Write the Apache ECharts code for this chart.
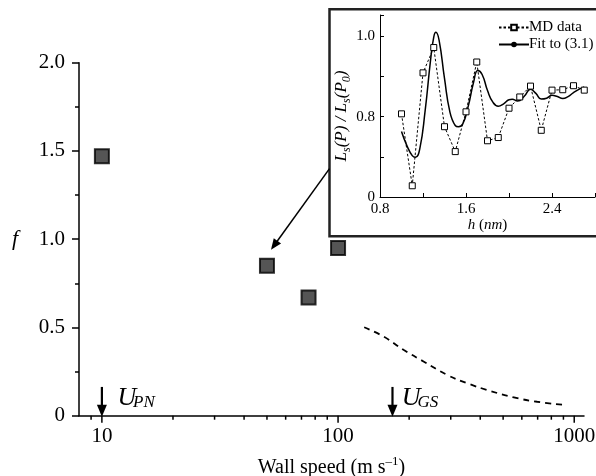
<!DOCTYPE html>
<html><head><meta charset="utf-8">
<script src="https://cdn.jsdelivr.net/npm/echarts@6/dist/echarts.min.js"></script>
<style>html,body{margin:0;padding:0;background:#fff}#c{width:596px;height:476px}</style>
</head><body><div id="c"></div>
<script>
// ---- Main chart data ----
const wallSpeed = [10, 50, 75, 100];
const fValues = [1.47, 0.85, 0.67, 0.95];
const curveSpeed = [129, 156, 190, 231, 290, 352, 442, 555, 697, 903];
const curveF = [0.501, 0.448, 0.372, 0.306, 0.231, 0.184, 0.140, 0.104, 0.079, 0.062];
const markerSpeed = [10, 170];
const markerTop = [0.163, 0.163];
const markerMain = ['U', 'U'];
const markerSub = ['PN', 'GS'];
const pointerFrom = [92, 1.40];
const pointerTo = [52, 0.94];
const xMajorTicks = [10, 100, 1000];
const xMinorTicks = [9, 20, 30, 40, 50, 60, 70, 80, 90, 200, 300, 400, 500, 600, 700, 800, 900];
const yTickLabels = { '0': '0', '0.5': '0.5', '1': '1.0', '1.5': '1.5', '2': '2.0' };
// ---- Inset data ----
const hMD = [1.0, 1.1, 1.2, 1.3, 1.4, 1.5, 1.6, 1.7, 1.8, 1.9, 2.0, 2.1, 2.2, 2.3, 2.4, 2.5, 2.6, 2.7];
const lsMD = [0.807, 0.628, 0.909, 0.972, 0.775, 0.713, 0.812, 0.936, 0.740, 0.748, 0.821, 0.849, 0.876, 0.766, 0.866, 0.867, 0.877, 0.866];
const hFit = [1.00, 1.05, 1.10, 1.13, 1.17, 1.22, 1.27, 1.30, 1.32, 1.35, 1.40, 1.45, 1.50, 1.53, 1.57, 1.62, 1.67, 1.71, 1.75, 1.80, 1.85, 1.90, 1.95, 2.00, 2.03, 2.08, 2.14, 2.20, 2.25, 2.30, 2.35, 2.40, 2.45, 2.50, 2.55, 2.60, 2.65, 2.70];
const lsFit = [0.763, 0.728, 0.703, 0.699, 0.720, 0.815, 0.940, 0.998, 1.010, 0.990, 0.895, 0.812, 0.778, 0.775, 0.782, 0.825, 0.885, 0.915, 0.905, 0.865, 0.836, 0.826, 0.832, 0.842, 0.843, 0.839, 0.850, 0.868, 0.858, 0.844, 0.846, 0.853, 0.850, 0.845, 0.850, 0.860, 0.868, 0.874];
const insetXLabels = ['0.8', '1.6', '2.4'];
const insetYLabels = { '0.6': '0', '0.8': '0.8', '1': '1.0' };

const FONT = '"Liberation Serif", "Times New Roman", serif';
const chart = echarts.init(document.getElementById('c'), null, { renderer: 'canvas' });

const option = {
  animation: false,
  backgroundColor: '#fff',
  grid: [
    { left: 79, right: 12, top: 62.7, bottom: 60.3, containLabel: false, outerBoundsMode: 'none' },
    { left: 380, right: 1, top: 15, bottom: 279, containLabel: false, outerBoundsMode: 'none' }
  ],
  xAxis: [
    {
      gridIndex: 0, type: 'log', logBase: 10, min: 8, max: 1100,
      axisLine: { lineStyle: { color: '#000', width: 1.5 } },
      axisTick: { show: false },
      minorTick: { show: false },
      splitLine: { show: false },
      axisLabel: {
        color: '#000', fontFamily: FONT, fontSize: 21, margin: 10,
        formatter: v => {
          const r = xMajorTicks.find(t => Math.abs(t - v) / t < 1e-6);
          return r ? String(r) : '';
        }
      },
      name: '{m|Wall speed (m s}{sup|–1}{m|)}',
      nameLocation: 'middle', nameGap: 39,
      nameTextStyle: {
        color: '#000', fontFamily: FONT, fontSize: 20,
        rich: {
          m: { fontFamily: FONT, fontSize: 20, lineHeight: 23, verticalAlign: 'bottom', color: '#000' },
          sup: { fontFamily: FONT, fontSize: 13, lineHeight: 12, verticalAlign: 'top', color: '#000' }
        }
      }
    },
    {
      gridIndex: 1, type: 'value', min: 0.8, max: 2.8, interval: 0.4, z: 10,
      axisLine: { lineStyle: { color: '#000', width: 1 } },
      axisTick: { inside: true, length: 4, lineStyle: { color: '#000', width: 1 } },
      splitLine: { show: false },
      axisLabel: {
        color: '#000', fontFamily: FONT, fontSize: 15, margin: 5,
        formatter: v => { const s = v.toFixed(1); return insetXLabels.includes(s) ? s : ''; }
      },
      name: '{i|h} ({i|nm})', nameLocation: 'middle', nameGap: 17,
      nameTextStyle: { color: '#000', fontFamily: FONT, fontSize: 15,
        rich: { i: { fontStyle: 'italic', fontFamily: FONT, fontSize: 15, color: '#000' } } }
    }
  ],
  yAxis: [
    {
      gridIndex: 0, type: 'value', min: 0, max: 2, interval: 0.5,
      axisLine: { show: true, lineStyle: { color: '#000', width: 1.5 } },
      axisTick: { show: true, length: 7, lineStyle: { color: '#000', width: 1.5 } },
      minorTick: { show: true, splitNumber: 2, length: 4, lineStyle: { color: '#000', width: 1.5 } },
      splitLine: { show: false },
      axisLabel: {
        color: '#000', fontFamily: FONT, fontSize: 21, margin: 14,
        formatter: v => yTickLabels[String(+v.toFixed(2))] || ''
      },
      name: 'f', nameLocation: 'middle', nameRotate: 0, nameGap: 61,
      nameTextStyle: { color: '#000', fontFamily: FONT, fontSize: 22, fontStyle: 'italic' }
    },
    {
      gridIndex: 1, type: 'value', min: 0.6, max: 1.053, interval: 0.2, z: 10,
      axisLine: { show: true, lineStyle: { color: '#000', width: 1 } },
      axisTick: { inside: true, length: 4, lineStyle: { color: '#000', width: 1 } },
      minorTick: { show: true, splitNumber: 2, length: 4, lineStyle: { color: '#000', width: 1 } },
      splitLine: { show: false },
      axisLabel: {
        color: '#000', fontFamily: FONT, fontSize: 15, margin: 5,
        formatter: v => insetYLabels[String(+v.toFixed(2))] || ''
      },
      name: '{i|L}{s|s}{i|(P) / L}{s|s}{i|(P}{s|0}{i|)}',
      nameLocation: 'middle', nameGap: 24.5,
      nameTextStyle: {
        color: '#000', fontFamily: FONT, fontSize: 17, padding: [0, 20, 0, 0],
        rich: {
          i: { fontStyle: 'italic', fontFamily: FONT, fontSize: 17, lineHeight: 17, verticalAlign: 'top', color: '#000' },
          s: { fontStyle: 'italic', fontFamily: FONT, fontSize: 12, lineHeight: 19, verticalAlign: 'bottom', color: '#000' }
        }
      }
    }
  ],
  legend: {
    orient: 'vertical', left: 493, top: 15, itemGap: 2,
    itemWidth: 30, itemHeight: 7,
    textStyle: { color: '#000', fontFamily: FONT, fontSize: 15, padding: [0, 0, 0, -5] },
    data: ['MD data', 'Fit to (3.1)'],
    z: 20
  },
  graphic: {
    z: 1,
    elements: [{
      type: 'rect', z: 1,
      shape: { x: 329.5, y: 9.3, width: 300, height: 227 },
      style: { fill: '#fff', stroke: '#222', lineWidth: 2.5 }
    }]
  },
  series: [
    {
      type: 'scatter', xAxisIndex: 0, yAxisIndex: 0, z: 3,
      data: wallSpeed.map((x, i) => [x, fValues[i]]),
      symbol: 'rect', symbolSize: 14,
      itemStyle: { color: '#2a2a2a', borderColor: '#000', borderWidth: 2 }
    },
    {
      type: 'line', xAxisIndex: 0, yAxisIndex: 0, z: 3,
      data: curveSpeed.map((x, i) => [x, curveF[i]]),
      smooth: true, symbol: 'none',
      lineStyle: { color: '#000', width: 1.8, type: [6, 5] }
    },
    {
      // x-axis ticks (major + minor) on the log axis
      type: 'custom', xAxisIndex: 0, yAxisIndex: 0, z: 3, silent: true,
      data: xMajorTicks.map(v => [v, 1]).concat(xMinorTicks.map(v => [v, 0])),
      renderItem: (params, api) => {
        const p = api.coord([api.value(0), 0]);
        const len = api.value(1) ? 7 : 4;
        return { type: 'line', shape: { x1: p[0], y1: p[1], x2: p[0], y2: p[1] + len },
          style: { stroke: '#000', lineWidth: 1.5 } };
      }
    },
    {
      // vertical marker arrows with labels
      type: 'custom', xAxisIndex: 0, yAxisIndex: 0, z: 4, silent: true,
      data: markerSpeed.map((x, i) => [x, markerTop[i]]),
      renderItem: (params, api) => {
        const i = params.dataIndex;
        const top = api.coord([api.value(0), api.value(1)]);
        const bot = api.coord([api.value(0), 0]);
        const headH = 11, headW = 10;
        const gap = [15.5, 9.3][i];
        const ux = top[0] + gap;
        const by = bot[1] - 4.5;
        return { type: 'group', children: [
          { type: 'line', shape: { x1: top[0], y1: top[1], x2: bot[0], y2: bot[1] - headH + 1 },
            style: { stroke: '#000', lineWidth: 2.2 } },
          { type: 'polygon', shape: { points: [[bot[0] - headW / 2, bot[1] - headH], [bot[0] + headW / 2, bot[1] - headH], [bot[0], bot[1] + 1]] },
            style: { fill: '#000' } },
          { type: 'text', x: ux, y: by,
            style: { text: markerMain[i], font: 'italic 26px ' + FONT, fill: '#000', align: 'left', verticalAlign: 'bottom' } },
          { type: 'text', x: ux + 15.7, y: by,
            style: { text: markerSub[i], font: 'italic 17px ' + FONT, fill: '#000', align: 'left', verticalAlign: 'bottom' } }
        ] };
      }
    },
    {
      // pointer arrow from inset to data point
      type: 'custom', xAxisIndex: 0, yAxisIndex: 0, z: 4, silent: true,
      data: [[pointerFrom[0], pointerFrom[1], pointerTo[0], pointerTo[1]]],
      renderItem: (params, api) => {
        const a = api.coord([api.value(0), api.value(1)]);
        const b = api.coord([api.value(2), api.value(3)]);
        const dx = b[0] - a[0], dy = b[1] - a[1];
        const L = Math.sqrt(dx * dx + dy * dy);
        const ux = dx / L, uy = dy / L;
        const hl = 11, hw = 4.5;
        const bx = b[0] - ux * hl, byy = b[1] - uy * hl;
        return { type: 'group', children: [
          { type: 'line', shape: { x1: a[0], y1: a[1], x2: bx + ux * 2, y2: byy + uy * 2 },
            style: { stroke: '#000', lineWidth: 1.5 } },
          { type: 'polygon', shape: { points: [[b[0], b[1]], [bx - uy * hw, byy + ux * hw], [bx + uy * hw, byy - ux * hw]] },
            style: { fill: '#000' } }
        ] };
      }
    },
    {
      name: 'MD data', type: 'line', xAxisIndex: 1, yAxisIndex: 1, z: 12,
      data: hMD.map((h, i) => [h, lsMD[i]]),
      symbol: 'rect', symbolSize: 6, showSymbol: true,
      itemStyle: { color: '#fff', borderColor: '#000', borderWidth: 1 },
      lineStyle: { color: '#000', width: 1, type: [2.5, 2] }
    },
    {
      name: 'Fit to (3.1)', type: 'line', xAxisIndex: 1, yAxisIndex: 1, z: 11,
      data: hFit.map((h, i) => [h, lsFit[i]]),
      smooth: 0.5, symbol: 'circle', symbolSize: 3, showSymbol: false,
      itemStyle: { color: '#000' },
      lineStyle: { color: '#000', width: 1.5 }
    }
  ]
};
chart.setOption(option);
</script>
</body></html>
